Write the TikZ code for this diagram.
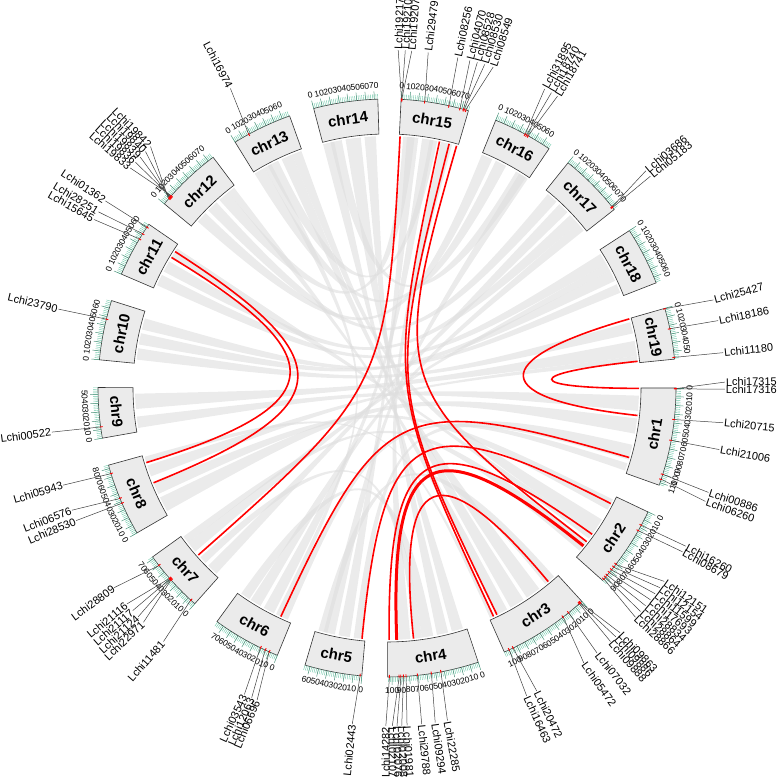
\documentclass[tikz,border=0pt]{standalone}
\usepackage{fontspec}
\setmainfont{Liberation Sans}
\definecolor{tickc}{HTML}{6CC7A8}
\definecolor{boxf}{HTML}{EBEBEB}
\definecolor{lnk}{HTML}{FF0000}
\begin{document}
\begin{tikzpicture}[x=1pt,y=1pt,
  chrbox/.style={fill=boxf,draw=black!80,line width=0.6pt},
  minortick/.style={draw=tickc,line width=0.4pt},
  majortick/.style={draw=tickc!75!black,line width=0.5pt},
  ticklab/.style={inner sep=0pt,font=\fontsize{8.5}{8.5}\selectfont},
  chrlab/.style={inner sep=0pt,font=\bfseries\fontsize{15}{15}\selectfont},
  genelab/.style={inner sep=0.8pt,font=\fontsize{11}{11}\selectfont},
  geneline/.style={draw=black!75,line width=0.5pt},
  ribf/.style={fill=black!13,fill opacity=0.6},
  redlink/.style={draw=lnk}]
\useasboundingbox (0,0) rectangle (777,780);
\def\sc{0.174}
\foreach \n/\s/\l in {1/0/113,2/-25.4/94,3/-47.6/106,4/-71.6/105,5/-95/66,6/-112.3/79,7/-131.7/72,8/-149.9/84,9/-170/58,10/-185.6/69,11/-203.2/65,12/-219.6/77,13/-238.3/69,14/-255.3/74,15/-272.8/78,16/-292.1/69,17/-308.8/75,18/-327/67,19/-344/59}{
  \expandafter\xdef\csname cs\n\endcsname{\s}
  \expandafter\xdef\csname cl\n\endcsname{\l}
}
\newcommand\ribb[6]{%
  \pgfmathsetmacro\ta{\csname cs#1\endcsname-\sc*(#2)}%
  \pgfmathsetmacro\tA{\csname cs#1\endcsname-\sc*(#3)}%
  \pgfmathsetmacro\tb{\csname cs#4\endcsname-\sc*(#5)}%
  \pgfmathsetmacro\tB{\csname cs#4\endcsname-\sc*(#6)}%
  \pgfmathsetmacro\dd{abs((\ta+\tA)/2-(\tb+\tB)/2)}%
  \pgfmathsetmacro\dd{\dd>180 ? 360-\dd : \dd}%
  \pgfmathsetmacro\cc{252*0.6*(1-\dd/180)^3}%
  \fill[ribf] (\ta:252pt) arc[start angle=\ta, end angle=\tA, radius=252pt]
     .. controls (\tA:\cc pt) and (\tb:\cc pt) .. (\tb:252pt)
     arc[start angle=\tb, end angle=\tB, radius=252pt]
     .. controls (\tB:\cc pt) and (\ta:\cc pt) .. cycle;%
}
\newcommand\redlk[5]{%
  \pgfmathsetmacro\ta{\csname cs#1\endcsname-\sc*(#2)}%
  \pgfmathsetmacro\tb{\csname cs#3\endcsname-\sc*(#4)}%
  \pgfmathsetmacro\dd{abs(\ta-\tb)}%
  \pgfmathsetmacro\dd{\dd>180 ? 360-\dd : \dd}%
  \pgfmathsetmacro\cc{252*0.6*(1-\dd/180)^3}%
  \draw[redlink,line width=#5pt] (\ta:252pt) .. controls (\ta:\cc pt) and (\tb:\cc pt) .. (\tb:252pt);%
}
\begin{scope}[shift={(387,392)}]
% gray ribbons
\ribb{12}{10}{25}{16}{0}{15}
\ribb{12}{30}{45}{17}{5}{20}
\ribb{13}{0}{15}{16}{20}{35}
\ribb{13}{20}{35}{15}{40}{50}
\ribb{14}{10}{25}{16}{50}{65}
\ribb{12}{50}{65}{15}{5}{20}
\ribb{10}{5}{20}{19}{5}{20}
\ribb{10}{25}{40}{18}{30}{45}
\ribb{10}{45}{60}{18}{50}{62}
\ribb{11}{5}{20}{18}{5}{20}
\ribb{11}{25}{40}{17}{45}{60}
\ribb{9}{5}{20}{1}{10}{30}
\ribb{9}{30}{50}{19}{30}{50}
\ribb{8}{5}{25}{1}{40}{60}
\ribb{8}{30}{45}{2}{5}{20}
\ribb{13}{40}{55}{3}{30}{50}
\ribb{13}{55}{68}{2}{35}{55}
\ribb{14}{0}{15}{4}{5}{20}
\ribb{14}{30}{50}{3}{55}{75}
\ribb{14}{55}{70}{4}{25}{40}
\ribb{12}{65}{75}{3}{80}{95}
\ribb{11}{45}{60}{2}{55}{65}
\ribb{15}{10}{25}{5}{20}{35}
\ribb{15}{30}{45}{6}{25}{40}
\ribb{17}{25}{40}{7}{5}{20}
\ribb{17}{60}{72}{6}{45}{60}
\ribb{18}{20}{30}{7}{45}{60}
\ribb{16}{55}{68}{5}{40}{55}
\ribb{19}{50}{58}{8}{55}{70}
\ribb{4}{45}{60}{6}{62}{75}
\ribb{3}{5}{20}{5}{50}{62}
\ribb{4}{60}{70}{7}{25}{35}
\ribb{1}{75}{95}{5}{5}{15}
\ribb{2}{70}{85}{7}{60}{70}
\ribb{3}{100}{105}{8}{75}{82}
\ribb{1}{100}{110}{6}{5}{15}
\ribb{15}{55}{70}{4}{75}{90}
\ribb{13}{15}{25}{6}{15}{22}
% red links
\redlk{15}{1}{7}{39}{1.6}
\redlk{11}{55}{8}{46}{1.6}
\redlk{11}{46}{8}{74}{1.6}
\redlk{19}{0.5}{1}{36}{1.6}
\redlk{19}{57}{1}{0.5}{1.6}
\redlk{6}{15}{1}{92}{1.6}
\redlk{15}{53}{3}{100}{1.6}
\redlk{15}{66}{3}{95}{1.6}
\redlk{15}{76}{2}{70}{1.6}
\redlk{5}{4}{2}{11}{1.6}
\redlk{4}{93}{2}{77}{3}
\redlk{4}{103}{2}{58}{1.6}
\redlk{4}{71}{3}{15}{1.6}
% chromosomes
\foreach \n in {1,...,19}{
  \pgfmathsetmacro\s{\csname cs\n\endcsname}
  \pgfmathsetmacro\l{\csname cl\n\endcsname}
  \pgfmathsetmacro\e{\s-\sc*\l}
  \fill[chrbox] (\s:289pt) arc[start angle=\s, end angle=\e, radius=289pt] -- (\e:254pt) arc[start angle=\e, end angle=\s, radius=254pt] -- cycle;
  \pgfmathsetmacro\m{(\s+\e)/2}
  \pgfmathsetmacro\mm{mod(\m+720,360)}
  \pgfmathsetmacro\rt{\mm<180 ? \m-90 : \m+90}
  \node[chrlab,rotate=\rt] (chr\n) at (\m:271.5pt) {chr\n};
  \foreach \p in {0,2,...,\l}{
    \pgfmathsetmacro\t{\s-\sc*\p}
    \draw[minortick] (\t:289pt) -- (\t:294pt);
  }
  \foreach \p in {0,10,...,\l}{
    \pgfmathsetmacro\t{\s-\sc*\p}
    \pgfmathsetmacro\tm{mod(\t+720,360)}
    \pgfmathsetmacro\rt{\tm<180 ? \t-90 : \t+90}
    \draw[majortick] (\t:289pt) -- (\t:297pt);
    \pgfmathtruncatemacro\v{\p}
    \node[ticklab,rotate=\rt] at (\t:302.5pt) {\v};
  }
}
% gene labels
\foreach \ch/\p/\a/\nm in {
13/18/117.6/Lchi16974,
12/8/134.4/Lchi19842, 12/9/135.6/Lchi19840, 12/10/136.9/Lchi19839, 12/11/138.1/Lchi19836, 12/12/139.4/Lchi19833,
11/61/146.4/Lchi01362, 11/52/148.6/Lchi28251, 11/45/150.1/Lchi15645,
10/47/166.5/Lchi23790,
9/13/-172.5/Lchi00522,
8/74/-163.3/Lchi05943, 8/44/-158.8/Lchi06576, 8/38/-156.9/Lchi28530,
7/60/-143.8/Lchi28809, 7/41/-140.3/Lchi21116, 7/40/-138.8/Lchi21117, 7/39/-137.4/Lchi21124, 7/38/-136.1/Lchi22971, 7/6/-131.4/Lchi11481,
6/21/-114.96/Lchi03543, 6/15/-113.6/Lchi12063, 6/10/-112.6/Lchi06696,
5/2/-95.9/Lchi02443,
4/103/-90.2/Lchi14282, 4/92/-89.1/Lchi02107, 4/90/-88.3/Lchi02076, 4/87/-87.5/Lchi02008, 4/84/-86.6/Lchi01981, 4/71/-84.1/Lchi29788, 4/55/-81.8/Lchi09294, 4/44/-79.7/Lchi22285,
3/100/-65.6/Lchi16463, 3/95/-63.7/Lchi20472, 3/28/-54.4/Lchi05472, 3/20/-51.6/Lchi07032, 3/4/-48.6/Lchi09888, 3/3/-47.4/Lchi09886, 3/2/-46.4/Lchi09863,
2/17/-27.9/Lchi16260, 2/24/-29.0/Lchi08679, 2/70/-34.9/Lchi12151, 2/74/-36.2/Lchi12154, 2/78/-37.5/Lchi11599, 2/82/-38.8/Lchi17693, 2/86/-40.1/Lchi28834, 2/89/-41.4/Lchi28864, 2/92/-42.7/Lchi28866,
1/0.5/1.0/Lchi17315, 1/1/-0.2/Lchi17316, 1/36/-5.9/Lchi20715, 1/60/-10.5/Lchi21006, 1/100/-18.0/Lchi00886, 1/106/-19.6/Lchi06260,
19/0.5/15.1/Lchi25427, 19/24/11.5/Lchi18186, 19/57/6.0/Lchi11180,
17/71/40.0/Lchi03686, 17/72/38.8/Lchi05183,
16/37/62.2/Lchi31895, 16/39/60.9/Lchi18740, 16/41/59.7/Lchi18741,
15/0.3/88.1/Lchi19217, 15/0.6/86.9/Lchi19210, 15/0.9/85.8/Lchi19207, 15/27/83.0/Lchi29479, 15/55/77.9/Lchi08256, 15/68/75.8/Lchi04070, 15/72/74.5/Lchi08528, 15/73/73.2/Lchi08530, 15/75/71.7/Lchi08549}{
  \pgfmathsetmacro\tg{\csname cs\ch\endcsname-\sc*\p}
  \draw[red,line width=0.9pt] (\tg:287pt) -- (\tg:290pt);
  \draw[geneline] (\tg:290pt) -- (\a:338pt) coordinate (e\nm);
  \pgfmathtruncatemacro\side{cos(\a)>=0 ? 1 : 0}
  \ifnum\side=1
    \node[genelab,rotate=\a,anchor=west] (n\nm) at (\a:338pt) {\nm};
  \else
    \pgfmathsetmacro\ra{\a+180}
    \node[genelab,rotate=\ra,anchor=east] (n\nm) at (\a:338pt) {\nm};
  \fi
}
\end{scope}
\end{tikzpicture}
\end{document}
